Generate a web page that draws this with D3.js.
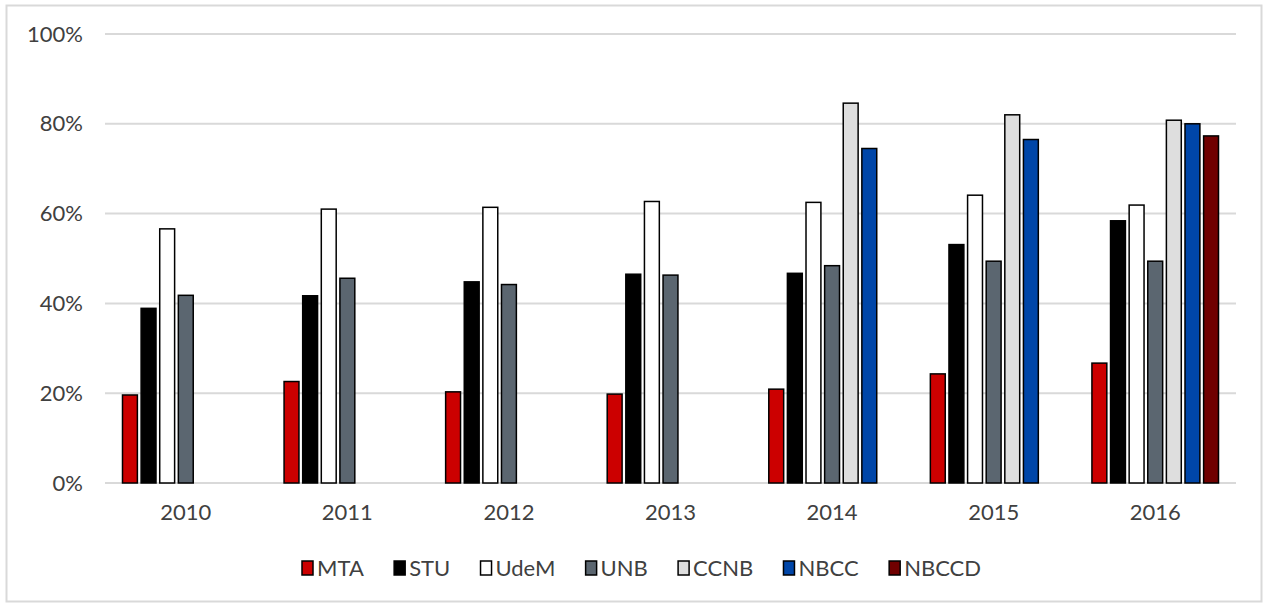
<!DOCTYPE html>
<html><head><meta charset="utf-8">
<script src="https://cdn.jsdelivr.net/npm/d3@7"></script>
<style>
html,body{margin:0;padding:0;background:#fff;}
svg{display:block;}
text{font-family:"Lato",sans-serif;fill:#404040;}
</style></head>
<body>
<svg id="chart" width="1266" height="603"></svg>
<script>
const years = ["2010","2011","2012","2013","2014","2015","2016"];
const seriesNames = ["MTA","STU","UdeM","UNB","CCNB","NBCC","NBCCD"];
const seriesColors = ["#cc0000","#000000","#ffffff","#5b6670","#dedede","#0046a8","#700000"];
const MTA   = [19.6, 22.6, 20.3, 19.8, 20.9, 24.3, 26.7];
const STU   = [38.9, 41.7, 44.8, 46.5, 46.7, 53.1, 58.4];
const UdeM  = [56.6, 61.0, 61.4, 62.7, 62.5, 64.1, 61.9];
const UNB   = [41.8, 45.6, 44.2, 46.3, 48.4, 49.4, 49.4];
const CCNB  = [null, null, null, null, 84.6, 82.0, 80.8];
const NBCC  = [null, null, null, null, 74.5, 76.5, 80.0];
const NBCCD = [null, null, null, null, null, null, 77.3];
const seriesValues = [MTA, STU, UdeM, UNB, CCNB, NBCC, NBCCD];
const yTicks = [0, 20, 40, 60, 80, 100];

(function(){
const FONT = "Lato, sans-serif";
const FS = 22;
const svg = d3.select("#chart");
svg.append("rect").attr("x",6.5).attr("y",5.5).attr("width",1255).attr("height",596)
  .attr("fill","#fff").attr("stroke","#d9d9d9").attr("stroke-width",2);

const pL = 105, pR = 1236, pT = 34, pB = 483;
const x0 = d3.scaleBand().domain(years).range([pL, pR]).padding(0);
const x1 = d3.scaleBand().domain(seriesNames).range([0, x0.bandwidth()]).paddingInner(0.2).paddingOuter(0.94);
const y = d3.scaleLinear().domain([0,100]).range([pB, pT]);

svg.append("g").selectAll("line").data(yTicks).join("line")
  .attr("x1",pL).attr("x2",pR)
  .attr("y1",d=>y(d)).attr("y2",d=>y(d))
  .attr("stroke","#d9d9d9").attr("stroke-width",2);

const yAxis = d3.axisLeft(y).tickValues(yTicks).tickFormat(d=>d+"%").tickSize(0).tickPadding(0);
const gy = svg.append("g").attr("transform","translate(83,0)").call(yAxis);
gy.select(".domain").remove();
gy.selectAll("text").attr("font-size",FS).attr("fill","#404040").style("font-family",FONT);

const xAxis = d3.axisBottom(x0).tickSize(0).tickPadding(0);
const gx = svg.append("g").attr("transform",`translate(0,${pB+21})`).call(xAxis);
gx.select(".domain").remove();
gx.selectAll("text").attr("font-size",FS).attr("fill","#404040").style("font-family",FONT);

const groups = svg.append("g").selectAll("g").data(years).join("g")
  .attr("transform", d=>`translate(${x0(d)},0)`);
groups.selectAll("rect")
  .data((yr,i)=>seriesNames.map((s,j)=>({s, j, v: seriesValues[j][i]})).filter(d=>d.v!=null))
  .join("rect")
  .attr("x",d=>x1(d.s)).attr("width",x1.bandwidth())
  .attr("y",d=>y(d.v)).attr("height",d=>y(0)-y(d.v))
  .attr("fill",d=>seriesColors[d.j]).attr("stroke","#000").attr("stroke-width",1.5);

const lg = svg.append("g");
const items = lg.selectAll("g").data(seriesNames).join("g");
items.append("rect").attr("width",11).attr("height",14).attr("y",-7)
  .attr("fill",(d,i)=>seriesColors[i]).attr("stroke","#000").attr("stroke-width",1.5);
items.append("text").attr("x",15).attr("dy","0.35em").attr("font-size",FS)
  .style("font-family",FONT).text(d=>d);
const widths = [];
items.each(function(){ widths.push(this.getBBox().width); });
const span = 679;
const gap = (span - d3.sum(widths)) / (widths.length - 1);
let cx = 0;
items.attr("transform",(d,i)=>{ const t=`translate(${cx},0)`; cx += widths[i]+gap; return t; });
lg.attr("transform",`translate(302,568)`);
})();
</script>
</body></html>
